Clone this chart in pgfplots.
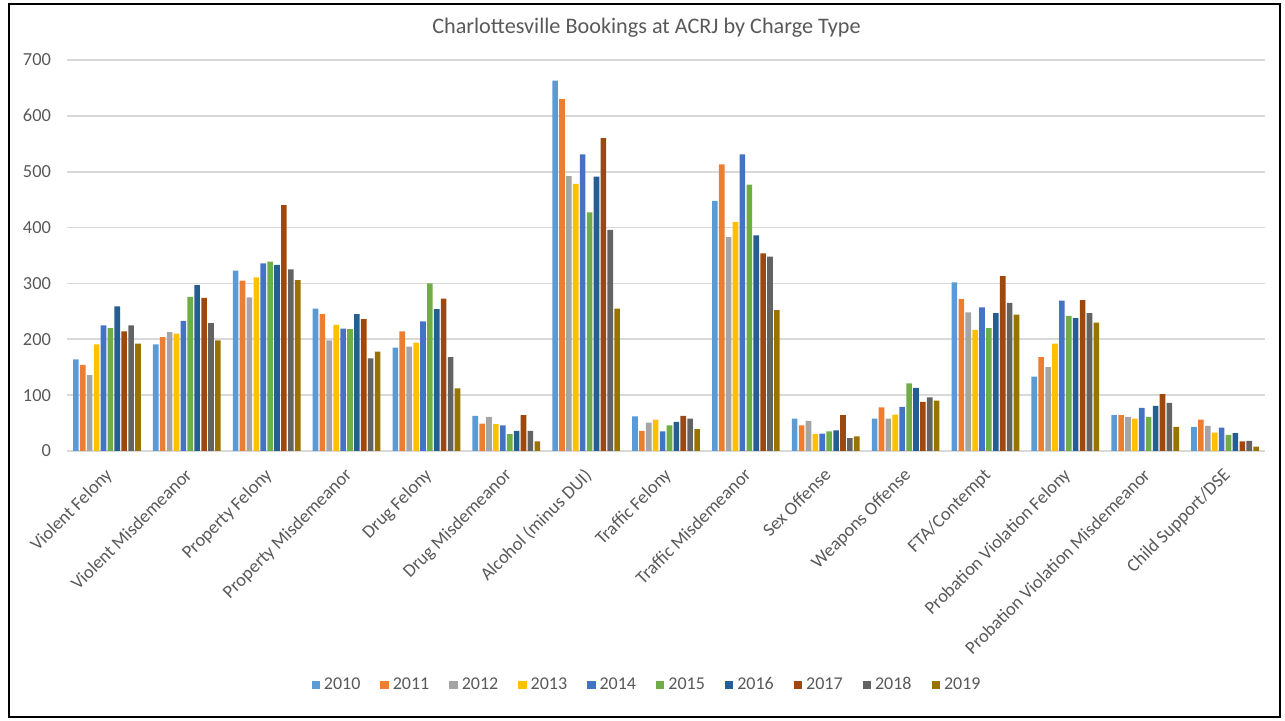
\documentclass[border=0pt]{standalone}
\usepackage{fontspec}
\setmainfont{Carlito}
\usepackage{pgfplots}
\pgfplotsset{compat=1.18}
\usepackage{pgfplotstable}

\definecolor{c2010}{HTML}{5B9BD5}
\definecolor{c2011}{HTML}{ED7D31}
\definecolor{c2012}{HTML}{A5A5A5}
\definecolor{c2013}{HTML}{FFC000}
\definecolor{c2014}{HTML}{4472C4}
\definecolor{c2015}{HTML}{70AD47}
\definecolor{c2016}{HTML}{255E91}
\definecolor{c2017}{HTML}{9E480E}
\definecolor{c2018}{HTML}{636363}
\definecolor{c2019}{HTML}{997300}
\definecolor{txtgray}{HTML}{595959}
\definecolor{gridgray}{HTML}{D9D9D9}

% columns: category index, then one column per year
\pgfplotstableread{
x  y2010 y2011 y2012 y2013 y2014 y2015 y2016 y2017 y2018 y2019
0  164   154   136   191   225   220   259   214   225   192
1  191   204   213   210   233   276   297   274   229   198
2  323   305   275   311   336   339   333   440   325   306
3  255   245   198   226   219   218   245   236   166   178
4  185   214   187   194   232   300   254   273   168   112
5  63    49    61    48    46    30    36    64    36    17
6  663   630   492   478   531   427   491   560   396   255
7  62    36    51    56    35    46    52    63    58    39
8  448   513   383   410   531   477   386   354   348   252
9  58    46    54    30    31    35    37    64    23    26
10 58    78    58    65    79    121   113   88    96    90
11 302   272   248   217   257   220   247   313   265   244
12 133   168   150   192   269   242   238   270   247   230
13 64    64    61    58    77    61    81    102   86    43
14 43    56    45    33    42    29    32    17    18    8
}\bookings

\begin{document}
\begin{tikzpicture}
\useasboundingbox (0,0) rectangle (642.5pt,360.5pt);
\draw[line width=1pt, black] (4.5pt,2pt) rectangle (640pt,358.5pt);
\node[text=txtgray, font=\fontsize{11.1}{13}\selectfont] at (323.25pt,346.5pt)
  {Charlottesville Bookings at ACRJ by Charge Type};
\begin{axis}[
    at={(33.5pt,135pt)}, anchor=south west,
    scale only axis,
    width=599pt, height=195.5pt,
    ybar=0.65pt,
    bar width=2.8pt,
    xmin=-0.5, xmax=14.5,
    ymin=0, ymax=700,
    ytick={0,100,...,700},
    xtick={0,...,14},
    xticklabels={Violent Felony, Violent Misdemeanor, Property Felony,
      Property Misdemeanor, Drug Felony, Drug Misdemeanor,
      Alcohol (minus DUI), Traffic Felony, Traffic Misdemeanor,
      Sex Offense, Weapons Offense, FTA/Contempt,
      Probation Violation Felony, Probation Violation Misdemeanor,
      Child Support/DSE},
    axis line style={draw=none},
    major tick length=0pt,
    ymajorgrids,
    grid style={gridgray, line width=0.8pt},
    tick label style={text=txtgray, font=\fontsize{9.2}{10}\selectfont},
    /pgf/number format/assume math mode=true,
    yticklabel style={anchor=east, xshift=-4.5pt},
    xticklabel style={xshift=-1.5pt, yshift=-6.5pt, rotate=45, anchor=north east, inner sep=1pt},
    legend columns=-1,
    legend style={at={(0.485,-0.598)}, anchor=center, draw=none,
      font=\fontsize{9}{10}\selectfont, text=txtgray,
      /tikz/every even column/.append style={column sep=8pt}},
    legend image code/.code={\fill[#1] (0pt,-2.1pt) rectangle (4.2pt,2.1pt);},
]
\addplot[fill=c2010, draw=none] table[x=x, y=y2010] {\bookings};
\addplot[fill=c2011, draw=none] table[x=x, y=y2011] {\bookings};
\addplot[fill=c2012, draw=none] table[x=x, y=y2012] {\bookings};
\addplot[fill=c2013, draw=none] table[x=x, y=y2013] {\bookings};
\addplot[fill=c2014, draw=none] table[x=x, y=y2014] {\bookings};
\addplot[fill=c2015, draw=none] table[x=x, y=y2015] {\bookings};
\addplot[fill=c2016, draw=none] table[x=x, y=y2016] {\bookings};
\addplot[fill=c2017, draw=none] table[x=x, y=y2017] {\bookings};
\addplot[fill=c2018, draw=none] table[x=x, y=y2018] {\bookings};
\addplot[fill=c2019, draw=none] table[x=x, y=y2019] {\bookings};
\legend{2010,2011,2012,2013,2014,2015,2016,2017,2018,2019}
\end{axis}
\end{tikzpicture}
\end{document}
